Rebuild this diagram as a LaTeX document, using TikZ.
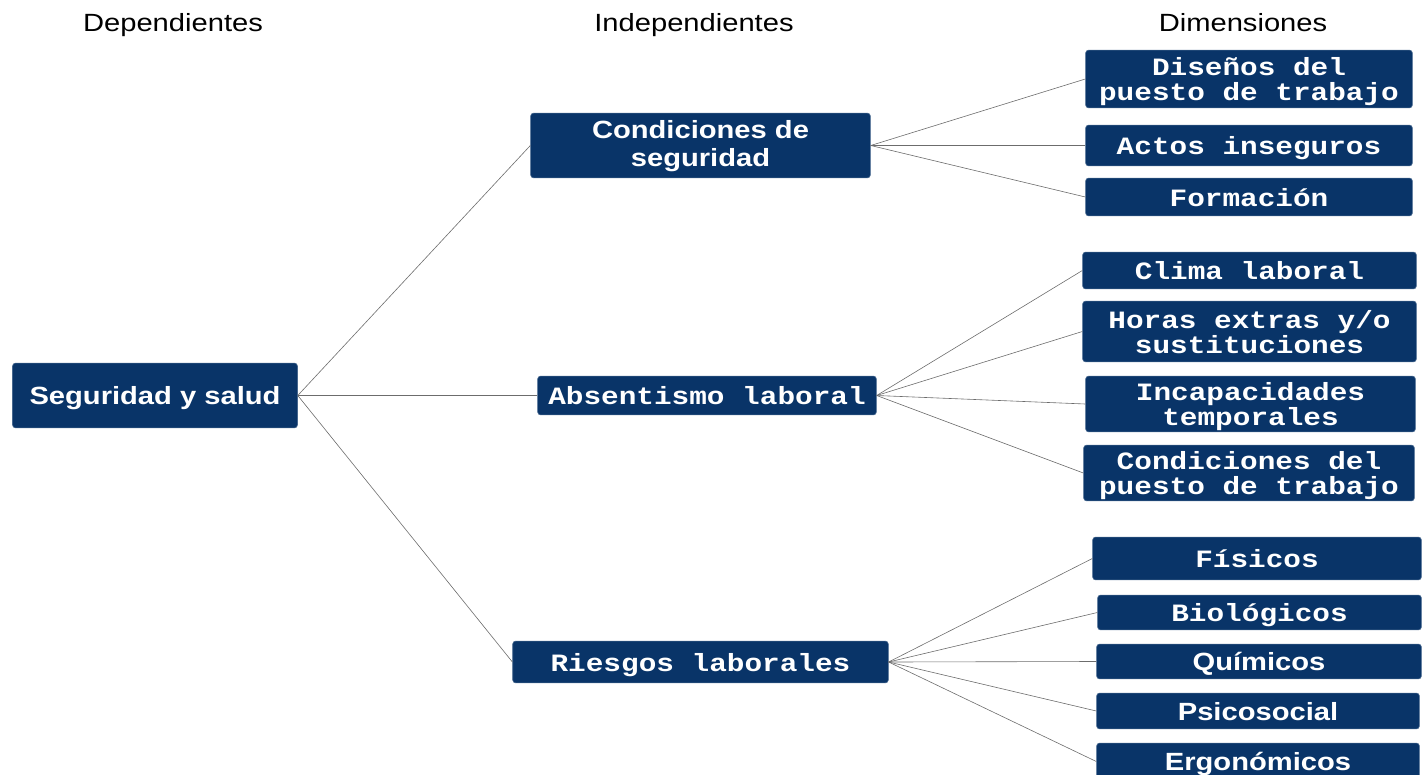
\documentclass[tikz,border=0pt]{standalone}
\usepackage{fontspec}
\setmainfont{Liberation Sans}[FakeStretch=1.17]
\newfontfamily\monob{Liberation Mono}[FakeStretch=1.18]
\definecolor{azul}{RGB}{9,52,104}
\tikzset{
  caja/.style={fill=azul, draw=azul!75!white, line width=0.6bp, rounded corners=3bp,
    text=white, inner sep=0pt, align=center, text height=18bp, text depth=0bp,
    font=\fontsize{25}{25}\selectfont\bfseries},
  cajamono/.style={caja, font=\fontsize{25}{25}\selectfont\monob\bfseries},
  doble/.style={text height=43bp},
  titulo/.style={anchor=base, font=\fontsize{25}{25}\selectfont},
  enlace/.style={draw=gray!85!black, line width=0.6bp}
}

\begin{document}
\begin{tikzpicture}[x=1bp, y=-1bp]
    \useasboundingbox (0,0) rectangle (1422,774);

    % --- 1. 標題 ---
    \node[titulo] (tDep) at (173,31.5) {Dependientes};
    \node[titulo] (tInd) at (694,31.5) {Independientes};
    \node[titulo] (tDim) at (1243,31.5) {Dimensiones};

    % --- 2. 變數 ---
    \node[caja, minimum width=286, minimum height=65] (SS) at (155,395.5) {Seguridad y salud};
    \node[caja, text height=42bp, font=\fontsize{25}{28}\selectfont\bfseries,
          minimum width=341, minimum height=65] (CS) at (700.5,145.5) {Condiciones de\\seguridad};
    \node[cajamono, minimum width=340, minimum height=39] (AL) at (707,395.5) {Absentismo laboral};
    \node[cajamono, minimum width=377, minimum height=42] (RL) at (700.5,662) {Riesgos laborales};

    % --- 3. 維度 ---
    \node[cajamono, doble, minimum width=328, minimum height=58] (D1) at (1249,79) {Diseños del\\puesto de trabajo};
    \node[cajamono, minimum width=328, minimum height=41] (D2) at (1249,145.5) {Actos inseguros};
    \node[cajamono, minimum width=328, minimum height=38] (D3) at (1249,197) {Formación};

    \node[cajamono, minimum width=335, minimum height=37] (D4) at (1249.5,270.5) {Clima laboral};
    \node[cajamono, doble, minimum width=335, minimum height=61] (D5) at (1249.5,331.5) {Horas extras y/o\\sustituciones};
    \node[cajamono, doble, minimum width=331, minimum height=56] (D6) at (1250.5,404) {Incapacidades\\temporales};
    \node[cajamono, doble, minimum width=332, minimum height=56] (D7) at (1249,473) {Condiciones del\\puesto de trabajo};

    \node[cajamono, minimum width=330, minimum height=43] (D8) at (1257,558.5) {Físicos};
    \node[cajamono, minimum width=325, minimum height=35] (D9) at (1259.5,612.5) {Biológicos};
    \node[caja, minimum width=326, minimum height=35] (D10) at (1259,661.5) {Químicos};
    \node[caja, minimum width=324, minimum height=36] (D11) at (1258,711) {Psicosocial};
    \node[caja, minimum width=324, minimum height=37] (D12) at (1258,761.5) {Ergonómicos};

    % --- 4. 連線 ---
    \foreach \v in {CS,AL,RL} \draw[enlace] (SS.east) -- (\v.west);
    \foreach \d in {D1,D2,D3} \draw[enlace] (CS.east) -- (\d.west);
    \foreach \d in {D4,D5,D6,D7} \draw[enlace] (AL.east) -- (\d.west);
    \foreach \d in {D8,D9,D10,D11,D12} \draw[enlace] (RL.east) -- (\d.west);

\end{tikzpicture}
\end{document}
